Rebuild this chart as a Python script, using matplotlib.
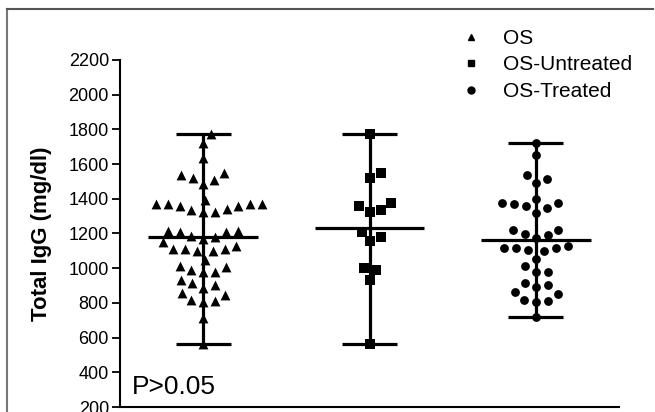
import matplotlib
matplotlib.use('Agg')
import matplotlib.pyplot as plt
from matplotlib.lines import Line2D
import numpy as np

plt.rcParams['font.family'] = ['Liberation Sans', 'DejaVu Sans']

# valores (mg/dl)
groups = ['OS', 'OS-Untreated', 'OS-Treated']
markers = ['^', 's', 'o']
os_vals = [1776, 1722, 1637, 1549, 1535, 1522, 1510, 1487, 1391,
           1372, 1372, 1372, 1372, 1356, 1356, 1343, 1337, 1323, 1323,
           1217, 1217, 1208, 1208, 1183, 1179, 1169,
           1150, 1127, 1112, 1112, 1112, 1102, 1098, 1048,
           1015, 1005, 990, 980, 980, 932, 913, 905, 884,
           857, 847, 818, 813, 803, 713, 565]
untreated_vals = [1776, 1549, 1522, 1375, 1360, 1337, 1323, 1208, 1179,
                  1154, 1002, 992, 934, 565]
treated_vals = [1722, 1651, 1539, 1512, 1493, 1397, 1378, 1375, 1368,
                1358, 1347, 1320, 1221, 1221, 1198, 1189, 1173,
                1130, 1115, 1115, 1115, 1106, 1102, 1054, 1015, 980, 980,
                915, 905, 890, 861, 851, 818, 813, 807, 716]
yticks = list(range(200, 2201, 200))


# distribui os pontos lado a lado (tipo "beeswarm"), em pixels
def swarm(vals, ppx, ppy, d=12.0):
    ys = np.asarray(vals, dtype=float) * ppy
    offs = np.zeros(len(ys))
    placed = []
    for i in np.argsort(ys):
        y = ys[i]
        near = [(x, yy) for x, yy in placed if abs(yy - y) < d]
        cands = [0.0]
        for x, yy in near:
            dx = np.sqrt(d**2 - (yy - y)**2)
            cands += [x + dx, x - dx]
        cands.sort(key=abs)
        for c in cands:
            if all(np.hypot(c - x, y - yy) >= d - 1e-6 for x, yy in near):
                offs[i] = c
                break
        placed.append((offs[i], y))
    return offs / ppx


fig = plt.figure(figsize=(6.55, 4.12), dpi=100)
ax = fig.add_axes([120 / 655, 5 / 412, 499 / 655, 347 / 412])
ax.set_xlim(0.5, 3.5)
ax.set_ylim(200, 2200)

p0, p1 = ax.transData.transform([(0, 0), (1, 1)])
ppx, ppy = p1 - p0

handles = []
for k, (vals, m) in enumerate(zip([os_vals, untreated_vals, treated_vals], markers)):
    pos = k + 1
    mean, lo, hi = np.mean(vals), np.min(vals), np.max(vals)
    ax.vlines(pos, lo, hi, color='black', lw=2.3, zorder=2)
    ax.hlines([lo, hi], pos - 0.165, pos + 0.165, color='black', lw=2.3, zorder=2)
    ax.hlines(mean, pos - 0.33, pos + 0.33, color='black', lw=2.3, zorder=2)
    xs = pos + swarm(vals, ppx, ppy)
    sz = {'^': 50, 's': 42, 'o': 40}[m]
    ax.scatter(xs, vals, marker=m, s=sz, color='black', linewidths=0, zorder=3)
    handles.append(Line2D([], [], marker=m, ls='', color='black', markersize=5))

ax.set_yticks(yticks)
ax.set_xticks([])
ax.tick_params(axis='y', labelsize=13, length=6, width=1.3, pad=2)
for s in ['top', 'right']:
    ax.spines[s].set_visible(False)
for s in ['left', 'bottom']:
    ax.spines[s].set_linewidth(1.5)

ax.set_ylabel('Total IgG (mg/dl)', fontsize=16, fontweight='bold')
ax.yaxis.set_label_coords(-0.136, 0.5)

ax.text(0.024, 0.037, 'P>0.05', transform=ax.transAxes, fontsize=19,
        va='baseline', ha='left')

ax.legend(handles, groups, loc='upper left', bbox_to_anchor=(461 / 655, 1 - 29 / 412),
          bbox_transform=fig.transFigure, frameon=False, fontsize=15,
          handlelength=1.0, handletextpad=1.0, labelspacing=0.36,
          borderpad=0, borderaxespad=0)

# moldura cinza da imagem original
fig.add_artist(Line2D([7 / 655, 7 / 655], [0, 1 - 9 / 412], color='#777777', lw=1.5,
                      transform=fig.transFigure))
fig.add_artist(Line2D([7 / 655, 653 / 655], [1 - 9 / 412, 1 - 9 / 412], color='#555555',
                      lw=1.5, transform=fig.transFigure))

fig.savefig('out.png', dpi=100)
